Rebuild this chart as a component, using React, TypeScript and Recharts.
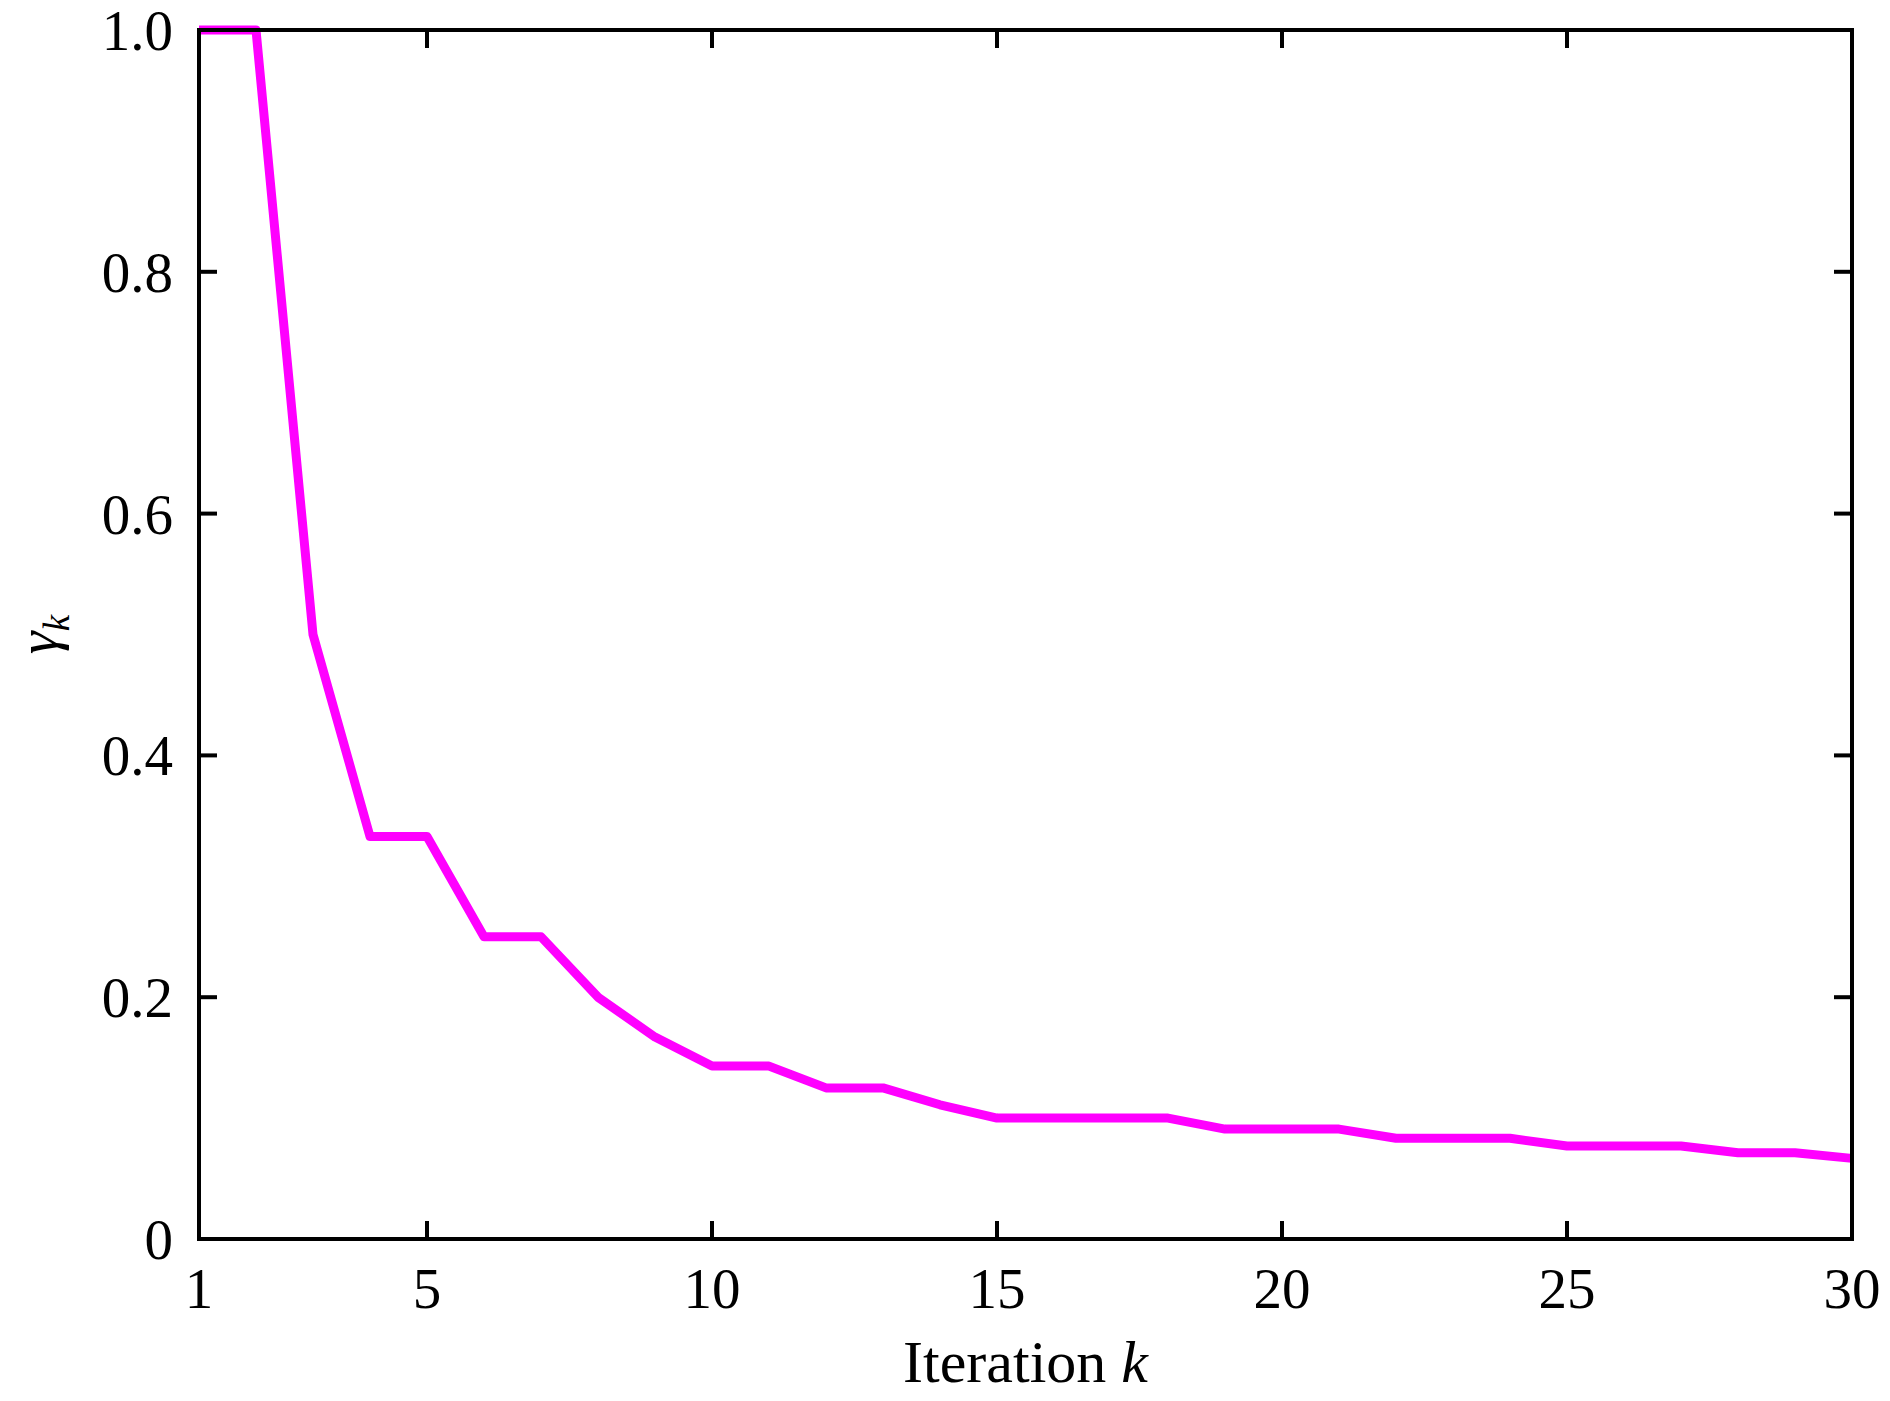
import { Line, LineChart, XAxis, YAxis } from "recharts";

const iterations = [
  1, 2, 3, 4, 5, 6, 7, 8, 9, 10, 11, 12, 13, 14, 15, 16, 17, 18, 19, 20, 21, 22, 23, 24, 25, 26, 27, 28, 29, 30,
];
const gammaValues = [
  1.0, 1.0, 0.5, 0.333, 0.333, 0.25, 0.25, 0.2, 0.167, 0.143, 0.143, 0.125, 0.125, 0.111, 0.1, 0.1, 0.1, 0.1,
  0.0909, 0.0909, 0.0909, 0.0833, 0.0833, 0.0833, 0.0769, 0.0769, 0.0769, 0.0714, 0.0714, 0.0667,
];
const xTicks = [1, 5, 10, 15, 20, 25, 30];
const yTicks = [0, 0.2, 0.4, 0.6, 0.8, 1.0];

const data = iterations.map((k, i) => ({ k, gamma: gammaValues[i] }));

const FONT = "'Liberation Serif', 'Times New Roman', serif";
const TICK_LEN = 18;
const axisLine = { stroke: "#000", strokeWidth: 4, strokeLinecap: "square" as const };

const yLabel = (v: number) => (v === 0 ? "0" : v.toFixed(1));

function BottomTick({ x, y, payload }: any) {
  return (
    <g>
      <line x1={x} y1={y} x2={x} y2={y - TICK_LEN} stroke="#000" strokeWidth={4} />
      <text x={x} y={y + 69} textAnchor="middle" fontFamily={FONT} fontSize={57} fill="#000">
        {payload.value}
      </text>
    </g>
  );
}

function TopTick({ x, y }: any) {
  return <line x1={x} y1={y} x2={x} y2={y + TICK_LEN} stroke="#000" strokeWidth={4} />;
}

function LeftTick({ x, y, payload }: any) {
  return (
    <g>
      <line x1={x} y1={y} x2={x + TICK_LEN} y2={y} stroke="#000" strokeWidth={4} />
      <text x={x - 26} y={y + 20} textAnchor="end" fontFamily={FONT} fontSize={57} fill="#000">
        {yLabel(payload.value)}
      </text>
    </g>
  );
}

function RightTick({ x, y }: any) {
  return <line x1={x} y1={y} x2={x - TICK_LEN} y2={y} stroke="#000" strokeWidth={4} />;
}

function XTitle({ viewBox }: any) {
  const cx = viewBox.x + viewBox.width / 2;
  return (
    <text x={cx} y={viewBox.y + 143} textAnchor="middle" fontFamily={FONT} fontSize={60} fill="#000">
      Iteration <tspan fontStyle="italic">k</tspan>
    </text>
  );
}

function YTitle({ viewBox }: any) {
  const cx = 57;
  const cy = viewBox.y + viewBox.height / 2;
  return (
    <text
      x={cx}
      y={cy}
      transform={`rotate(-90 ${cx} ${cy})`}
      textAnchor="middle"
      fontFamily={FONT}
      fontStyle="italic"
      fill="#000"
    >
      <tspan fontSize={58}>γ</tspan>
      <tspan fontSize={37} dy={12}>k</tspan>
    </text>
  );
}

export default function App() {
  return (
    <div style={{ position: "absolute", left: 0, top: 0, background: "#fff" }}>
      <LineChart width={1890} height={1401} data={data} margin={{ top: 0, right: 0, bottom: 0, left: 0 }}>
        <XAxis
          xAxisId="b"
          dataKey="k"
          type="number"
          domain={[1, 30]}
          ticks={xTicks}
          height={162}
          tickSize={0}
          tickMargin={0}
          tickLine={false}
          axisLine={axisLine}
          tick={<BottomTick />}
          interval={0}
          label={{ content: <XTitle /> }}
        />
        <XAxis
          xAxisId="t"
          dataKey="k"
          type="number"
          orientation="top"
          domain={[1, 30]}
          ticks={xTicks}
          height={30}
          tickSize={0}
          tickMargin={0}
          tickLine={false}
          axisLine={axisLine}
          tick={<TopTick />}
          interval={0}
        />
        <YAxis
          yAxisId="l"
          type="number"
          domain={[0, 1]}
          ticks={yTicks}
          width={199}
          tickSize={0}
          tickMargin={0}
          tickLine={false}
          axisLine={axisLine}
          tick={<LeftTick />}
          interval={0}
          label={{ content: <YTitle /> }}
        />
        <YAxis
          yAxisId="r"
          orientation="right"
          type="number"
          domain={[0, 1]}
          ticks={yTicks}
          width={38}
          tickSize={0}
          tickMargin={0}
          tickLine={false}
          axisLine={axisLine}
          tick={<RightTick />}
          interval={0}
        />
        <Line
          xAxisId="t"
          yAxisId="r"
          dataKey="gamma"
          stroke="none"
          dot={false}
          activeDot={false}
          isAnimationActive={false}
        />
        <Line
          xAxisId="b"
          yAxisId="l"
          type="linear"
          dataKey="gamma"
          stroke="#ff00ff"
          strokeWidth={9}
          strokeLinejoin="round"
          dot={false}
          activeDot={false}
          isAnimationActive={false}
        />
      </LineChart>
    </div>
  );
}
